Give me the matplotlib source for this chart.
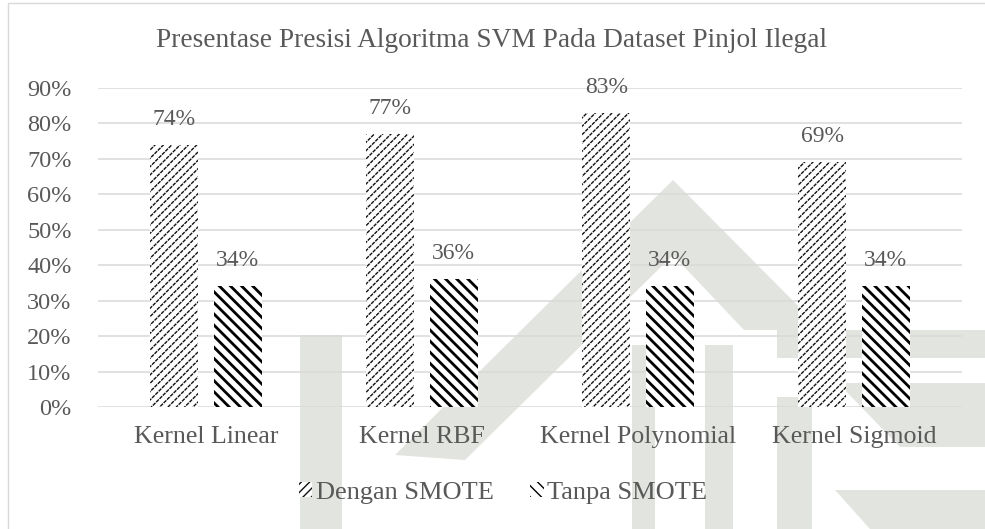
import matplotlib
matplotlib.use("Agg")
import matplotlib.pyplot as plt
from matplotlib.patches import Polygon, Rectangle
import numpy as np

# Data
categories = ['Kernel Linear', 'Kernel RBF', 'Kernel Polynomial', 'Kernel Sigmoid']
dengan_smote = [0.74, 0.77, 0.83, 0.69]
tanpa_smote = [0.34, 0.36, 0.34, 0.34]
series_names = ['Dengan SMOTE', 'Tanpa SMOTE']
y_ticks = [0.0, 0.1, 0.2, 0.3, 0.4, 0.5, 0.6, 0.7, 0.8, 0.9]

text_color = '#595959'
grid_color = '#d9d9d9'
plt.rcParams['font.family'] = ['Liberation Serif', 'DejaVu Serif']

W, H = 985, 529
fig = plt.figure(figsize=(W / 100, H / 100), dpi=100)


def px(pts):
    # pixel coords (top-left origin) -> figure fraction
    return [(x / W, 1 - y / H) for x, y in pts]


# faint scan watermark in the background
wm = '#e2e4df'
shapes = [
    [(395, 455), (673, 180), (822, 330), (744, 330), (673, 255), (465, 460)],
    [(300, 335), (342, 335), (342, 529), (300, 529)],
    [(632, 345), (655, 345), (655, 529), (632, 529)],
    [(705, 345), (733, 345), (733, 529), (705, 529)],
    [(777, 330), (985, 330), (985, 358), (777, 358)],
    [(838, 383), (985, 383), (985, 447), (900, 447)],
    [(777, 397), (812, 397), (812, 529), (777, 529)],
    [(835, 490), (985, 490), (985, 529), (870, 529)],
]
for s in shapes:
    fig.patches.append(Polygon(px(s), closed=True, transform=fig.transFigure,
                               facecolor=wm, edgecolor='none', zorder=-5))

# chart border (right and bottom sides fall outside the picture)
fig.patches.append(Rectangle((8 / W, -0.05), 1.1, 1.05 - 3 / H,
                             transform=fig.transFigure, facecolor='none',
                             edgecolor=grid_color, linewidth=1.0, zorder=-4))

ax = fig.add_axes([98 / W, 1 - 407 / H, 864 / W, 319 / H])
ax.set_facecolor('none')

x = np.arange(len(categories))
width = 0.222
offset = 0.146

with plt.rc_context({'hatch.linewidth': 1.0}):
    b1 = ax.bar(x - offset, dengan_smote, width, facecolor='white', edgecolor='#111111',
                linewidth=0, hatch='////', label=series_names[0], zorder=3)
with plt.rc_context({'hatch.linewidth': 0.7}):
    # white cross strokes break the diagonals into dashes
    b1w = ax.bar(x - offset, dengan_smote, width, facecolor='none', edgecolor='white',
                 linewidth=0, hatch='\\\\\\\\\\', zorder=3.1)
with plt.rc_context({'hatch.linewidth': 2.0}):
    b2 = ax.bar(x + offset, tanpa_smote, width, facecolor='white', edgecolor='black',
                linewidth=0, hatch='\\\\\\', label=series_names[1], zorder=3)
for bars, lw in ((b1, 1.0), (b1w, 0.7), (b2, 2.0)):
    for p in bars:
        if hasattr(p, 'set_hatch_linewidth'):
            p.set_hatch_linewidth(lw)

for bars, vals in ((b1, dengan_smote), (b2, tanpa_smote)):
    for p, v in zip(bars, vals):
        ax.annotate(f'{round(v * 100):d}%', (p.get_x() + p.get_width() / 2, v),
                    xytext=(0, 18.5), textcoords='offset points', ha='center', va='center',
                    fontsize=17, color=text_color)

ax.set_xlim(-0.5, len(categories) - 0.5)
ax.set_ylim(0, 0.9)
ax.set_yticks(y_ticks)
ax.set_yticklabels([f'{round(t * 100):d}%' for t in y_ticks], fontsize=17.5)
ax.set_xticks(x)
ax.set_xticklabels(categories, fontsize=18.6)
ax.tick_params(axis='both', length=0, labelcolor=text_color)
ax.tick_params(axis='y', pad=19)
ax.tick_params(axis='x', pad=13.5)
ax.grid(axis='y', color=grid_color, linewidth=1.1, zorder=0)
ax.set_axisbelow(True)
for sp in ax.spines.values():
    sp.set_visible(False)

fig.text(492 / W, 1 - 40 / H, 'Presentase Presisi Algoritma SVM Pada Dataset Pinjol Ilegal',
         ha='center', va='center', fontsize=19.7, color=text_color)

leg = fig.legend(handles=[b1, b2], labels=series_names, loc='center',
                 bbox_to_anchor=(503 / W, 1 - 493 / H), ncol=2, frameon=False,
                 fontsize=19, labelcolor=text_color, handlelength=0.5, handleheight=0.5,
                 handletextpad=0.12, columnspacing=1.4, borderpad=0.2)

fig.savefig('out.png', dpi=100)
